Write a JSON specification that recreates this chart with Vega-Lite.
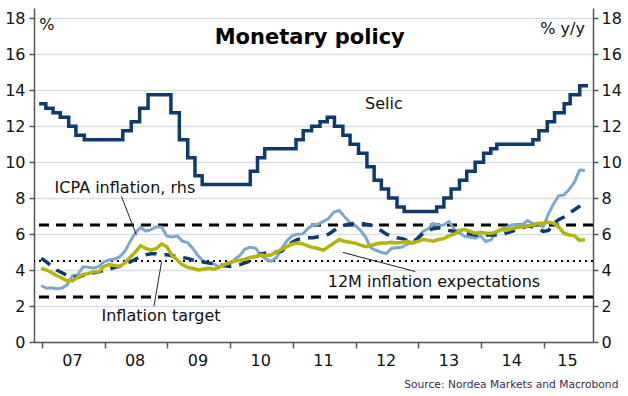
{
  "$schema": "https://vega.github.io/schema/vega-lite/v6.json",
  "width": 559,
  "height": 334,
  "autosize": "none",
  "padding": {"left": 34, "top": 8, "right": 35, "bottom": 54},
  "background": "white",
  "config": {
    "view": {"stroke": null},
    "axis": {
      "labelFont": "DejaVu Sans",
      "labelFontSize": 16,
      "labelColor": "#111111",
      "domainColor": "#555555",
      "domainWidth": 1.5,
      "tickColor": "#555555",
      "tickWidth": 1.5,
      "gridColor": "#d9dee5",
      "gridWidth": 1.5
    },
    "text": {"font": "DejaVu Sans"}
  },
  "datasets": {
    "selic": [
      {"date": "2006-12-16", "rate": 13.25},
      {"date": "2007-01-24", "rate": 13.0},
      {"date": "2007-03-07", "rate": 12.75},
      {"date": "2007-04-18", "rate": 12.5},
      {"date": "2007-06-06", "rate": 12.0},
      {"date": "2007-07-18", "rate": 11.5},
      {"date": "2007-09-05", "rate": 11.25},
      {"date": "2008-04-16", "rate": 11.75},
      {"date": "2008-06-04", "rate": 12.25},
      {"date": "2008-07-23", "rate": 13.0},
      {"date": "2008-09-10", "rate": 13.75},
      {"date": "2009-01-21", "rate": 12.75},
      {"date": "2009-03-11", "rate": 11.25},
      {"date": "2009-04-29", "rate": 10.25},
      {"date": "2009-06-10", "rate": 9.25},
      {"date": "2009-07-22", "rate": 8.75},
      {"date": "2010-04-28", "rate": 9.5},
      {"date": "2010-06-09", "rate": 10.25},
      {"date": "2010-07-21", "rate": 10.75},
      {"date": "2011-01-19", "rate": 11.25},
      {"date": "2011-03-02", "rate": 11.75},
      {"date": "2011-04-20", "rate": 12.0},
      {"date": "2011-06-08", "rate": 12.25},
      {"date": "2011-07-20", "rate": 12.5},
      {"date": "2011-08-31", "rate": 12.0},
      {"date": "2011-10-19", "rate": 11.5},
      {"date": "2011-11-30", "rate": 11.0},
      {"date": "2012-01-18", "rate": 10.5},
      {"date": "2012-03-07", "rate": 9.75},
      {"date": "2012-04-18", "rate": 9.0},
      {"date": "2012-05-30", "rate": 8.5},
      {"date": "2012-07-11", "rate": 8.0},
      {"date": "2012-08-29", "rate": 7.5},
      {"date": "2012-10-10", "rate": 7.25},
      {"date": "2013-04-17", "rate": 7.5},
      {"date": "2013-05-29", "rate": 8.0},
      {"date": "2013-07-10", "rate": 8.5},
      {"date": "2013-08-28", "rate": 9.0},
      {"date": "2013-10-09", "rate": 9.5},
      {"date": "2013-11-27", "rate": 10.0},
      {"date": "2014-01-15", "rate": 10.5},
      {"date": "2014-02-26", "rate": 10.75},
      {"date": "2014-04-02", "rate": 11.0},
      {"date": "2014-10-29", "rate": 11.25},
      {"date": "2014-12-03", "rate": 11.75},
      {"date": "2015-01-21", "rate": 12.25},
      {"date": "2015-03-04", "rate": 12.75},
      {"date": "2015-04-29", "rate": 13.25},
      {"date": "2015-06-03", "rate": 13.75},
      {"date": "2015-07-29", "rate": 14.25},
      {"date": "2015-09-15", "rate": 14.25}
    ],
    "inflation": [
      {"date": "2006-12-28", "ipca": 3.14, "exp12m": 4.1, "dashed": 4.65},
      {"date": "2007-01-28", "ipca": 2.99, "exp12m": 4.0, "dashed": 4.45},
      {"date": "2007-02-28", "ipca": 3.02, "exp12m": 3.85, "dashed": 4.2},
      {"date": "2007-03-28", "ipca": 2.96, "exp12m": 3.7, "dashed": 4.0},
      {"date": "2007-04-28", "ipca": 3.0, "exp12m": 3.55, "dashed": 3.85},
      {"date": "2007-05-28", "ipca": 3.18, "exp12m": 3.4, "dashed": 3.7},
      {"date": "2007-06-28", "ipca": 3.69, "exp12m": 3.4, "dashed": 3.6},
      {"date": "2007-07-28", "ipca": 3.74, "exp12m": 3.6, "dashed": 3.6},
      {"date": "2007-08-28", "ipca": 4.18, "exp12m": 3.75, "dashed": 3.7},
      {"date": "2007-09-28", "ipca": 4.15, "exp12m": 3.8, "dashed": 3.8},
      {"date": "2007-10-28", "ipca": 4.12, "exp12m": 3.9, "dashed": 3.85},
      {"date": "2007-11-28", "ipca": 4.19, "exp12m": 3.9, "dashed": 3.9},
      {"date": "2007-12-28", "ipca": 4.46, "exp12m": 4.2, "dashed": 4.0},
      {"date": "2008-01-28", "ipca": 4.56, "exp12m": 4.3, "dashed": 4.05},
      {"date": "2008-02-28", "ipca": 4.61, "exp12m": 4.25, "dashed": 4.15},
      {"date": "2008-03-28", "ipca": 4.73, "exp12m": 4.2, "dashed": 4.2},
      {"date": "2008-04-28", "ipca": 5.04, "exp12m": 4.4, "dashed": 4.3},
      {"date": "2008-05-28", "ipca": 5.58, "exp12m": 4.7, "dashed": 4.45},
      {"date": "2008-06-28", "ipca": 6.06, "exp12m": 5.0, "dashed": 4.6},
      {"date": "2008-07-28", "ipca": 6.37, "exp12m": 5.35, "dashed": 4.75},
      {"date": "2008-08-28", "ipca": 6.17, "exp12m": 5.2, "dashed": 4.85},
      {"date": "2008-09-28", "ipca": 6.25, "exp12m": 5.1, "dashed": 4.9},
      {"date": "2008-10-28", "ipca": 6.41, "exp12m": 5.2, "dashed": 4.9},
      {"date": "2008-11-28", "ipca": 6.39, "exp12m": 5.45, "dashed": 4.85},
      {"date": "2008-12-28", "ipca": 5.9, "exp12m": 5.3, "dashed": 4.85},
      {"date": "2009-01-28", "ipca": 5.84, "exp12m": 4.8, "dashed": 4.8},
      {"date": "2009-02-28", "ipca": 5.9, "exp12m": 4.55, "dashed": 4.75},
      {"date": "2009-03-28", "ipca": 5.61, "exp12m": 4.3, "dashed": 4.7},
      {"date": "2009-04-28", "ipca": 5.53, "exp12m": 4.15, "dashed": 4.65},
      {"date": "2009-05-28", "ipca": 5.2, "exp12m": 4.1, "dashed": 4.55},
      {"date": "2009-06-28", "ipca": 4.8, "exp12m": 4.0, "dashed": 4.5},
      {"date": "2009-07-28", "ipca": 4.5, "exp12m": 4.05, "dashed": 4.45},
      {"date": "2009-08-28", "ipca": 4.36, "exp12m": 4.1, "dashed": 4.4},
      {"date": "2009-09-28", "ipca": 4.34, "exp12m": 4.05, "dashed": 4.35},
      {"date": "2009-10-28", "ipca": 4.17, "exp12m": 4.15, "dashed": 4.3},
      {"date": "2009-11-28", "ipca": 4.22, "exp12m": 4.3, "dashed": 4.25},
      {"date": "2009-12-28", "ipca": 4.31, "exp12m": 4.4, "dashed": 4.2},
      {"date": "2010-01-28", "ipca": 4.59, "exp12m": 4.5, "dashed": 4.25},
      {"date": "2010-02-28", "ipca": 4.83, "exp12m": 4.55, "dashed": 4.3},
      {"date": "2010-03-28", "ipca": 5.17, "exp12m": 4.6, "dashed": 4.4},
      {"date": "2010-04-28", "ipca": 5.26, "exp12m": 4.7, "dashed": 4.5},
      {"date": "2010-05-28", "ipca": 5.22, "exp12m": 4.75, "dashed": 4.7},
      {"date": "2010-06-28", "ipca": 4.84, "exp12m": 4.85, "dashed": 4.9},
      {"date": "2010-07-28", "ipca": 4.6, "exp12m": 4.8, "dashed": 4.95},
      {"date": "2010-08-28", "ipca": 4.49, "exp12m": 4.85, "dashed": 4.95},
      {"date": "2010-09-28", "ipca": 4.7, "exp12m": 5.0, "dashed": 5.0},
      {"date": "2010-10-28", "ipca": 5.2, "exp12m": 5.15, "dashed": 5.05},
      {"date": "2010-11-28", "ipca": 5.63, "exp12m": 5.3, "dashed": 5.3},
      {"date": "2010-12-28", "ipca": 5.91, "exp12m": 5.45, "dashed": 5.55},
      {"date": "2011-01-28", "ipca": 5.99, "exp12m": 5.5, "dashed": 5.7},
      {"date": "2011-02-28", "ipca": 6.01, "exp12m": 5.45, "dashed": 5.75},
      {"date": "2011-03-28", "ipca": 6.3, "exp12m": 5.35, "dashed": 5.8},
      {"date": "2011-04-28", "ipca": 6.51, "exp12m": 5.25, "dashed": 5.8},
      {"date": "2011-05-28", "ipca": 6.55, "exp12m": 5.2, "dashed": 5.85},
      {"date": "2011-06-28", "ipca": 6.71, "exp12m": 5.1, "dashed": 5.9},
      {"date": "2011-07-28", "ipca": 6.87, "exp12m": 5.3, "dashed": 6.0},
      {"date": "2011-08-28", "ipca": 7.23, "exp12m": 5.5, "dashed": 6.2},
      {"date": "2011-09-28", "ipca": 7.31, "exp12m": 5.7, "dashed": 6.4},
      {"date": "2011-10-28", "ipca": 6.97, "exp12m": 5.6, "dashed": 6.5},
      {"date": "2011-11-28", "ipca": 6.64, "exp12m": 5.55, "dashed": 6.55},
      {"date": "2011-12-28", "ipca": 6.5, "exp12m": 5.5, "dashed": 6.6},
      {"date": "2012-01-28", "ipca": 6.22, "exp12m": 5.4, "dashed": 6.6},
      {"date": "2012-02-28", "ipca": 5.85, "exp12m": 5.3, "dashed": 6.55},
      {"date": "2012-03-28", "ipca": 5.24, "exp12m": 5.35, "dashed": 6.5},
      {"date": "2012-04-28", "ipca": 5.1, "exp12m": 5.45, "dashed": 6.35},
      {"date": "2012-05-28", "ipca": 4.99, "exp12m": 5.5, "dashed": 6.2},
      {"date": "2012-06-28", "ipca": 4.92, "exp12m": 5.5, "dashed": 6.0},
      {"date": "2012-07-28", "ipca": 5.2, "exp12m": 5.55, "dashed": 5.9},
      {"date": "2012-08-28", "ipca": 5.24, "exp12m": 5.5, "dashed": 5.8},
      {"date": "2012-09-28", "ipca": 5.28, "exp12m": 5.55, "dashed": 5.75},
      {"date": "2012-10-28", "ipca": 5.45, "exp12m": 5.6, "dashed": 5.65},
      {"date": "2012-11-28", "ipca": 5.53, "exp12m": 5.5, "dashed": 5.55},
      {"date": "2012-12-28", "ipca": 5.84, "exp12m": 5.6, "dashed": 5.75},
      {"date": "2013-01-28", "ipca": 6.15, "exp12m": 5.7, "dashed": 6.05},
      {"date": "2013-02-28", "ipca": 6.31, "exp12m": 5.65, "dashed": 6.2},
      {"date": "2013-03-28", "ipca": 6.59, "exp12m": 5.6, "dashed": 6.3},
      {"date": "2013-04-28", "ipca": 6.49, "exp12m": 5.7, "dashed": 6.35},
      {"date": "2013-05-28", "ipca": 6.5, "exp12m": 5.75, "dashed": 6.3},
      {"date": "2013-06-28", "ipca": 6.7, "exp12m": 5.9, "dashed": 6.2},
      {"date": "2013-07-28", "ipca": 6.27, "exp12m": 6.0, "dashed": 6.15},
      {"date": "2013-08-28", "ipca": 6.09, "exp12m": 6.2, "dashed": 6.1},
      {"date": "2013-09-28", "ipca": 5.86, "exp12m": 6.25, "dashed": 6.05},
      {"date": "2013-10-28", "ipca": 5.84, "exp12m": 6.15, "dashed": 6.0},
      {"date": "2013-11-28", "ipca": 5.77, "exp12m": 6.05, "dashed": 5.95},
      {"date": "2013-12-28", "ipca": 5.91, "exp12m": 6.1, "dashed": 5.95},
      {"date": "2014-01-28", "ipca": 5.59, "exp12m": 6.05, "dashed": 5.95},
      {"date": "2014-02-28", "ipca": 5.68, "exp12m": 6.05, "dashed": 5.95},
      {"date": "2014-03-28", "ipca": 6.15, "exp12m": 6.1, "dashed": 5.95},
      {"date": "2014-04-28", "ipca": 6.28, "exp12m": 6.25, "dashed": 5.95},
      {"date": "2014-05-28", "ipca": 6.37, "exp12m": 6.2, "dashed": 6.05},
      {"date": "2014-06-28", "ipca": 6.52, "exp12m": 6.3, "dashed": 6.15},
      {"date": "2014-07-28", "ipca": 6.5, "exp12m": 6.35, "dashed": 6.25},
      {"date": "2014-08-28", "ipca": 6.51, "exp12m": 6.4, "dashed": 6.35},
      {"date": "2014-09-28", "ipca": 6.75, "exp12m": 6.45, "dashed": 6.45},
      {"date": "2014-10-28", "ipca": 6.59, "exp12m": 6.5, "dashed": 6.4},
      {"date": "2014-11-28", "ipca": 6.56, "exp12m": 6.6, "dashed": 6.3},
      {"date": "2014-12-28", "ipca": 6.41, "exp12m": 6.6, "dashed": 6.15},
      {"date": "2015-01-28", "ipca": 7.14, "exp12m": 6.65, "dashed": 6.2},
      {"date": "2015-02-28", "ipca": 7.7, "exp12m": 6.6, "dashed": 6.6},
      {"date": "2015-03-28", "ipca": 8.13, "exp12m": 6.4, "dashed": 6.8},
      {"date": "2015-04-28", "ipca": 8.17, "exp12m": 6.05, "dashed": 6.95},
      {"date": "2015-05-28", "ipca": 8.47, "exp12m": 5.95, "dashed": 7.15},
      {"date": "2015-06-28", "ipca": 8.89, "exp12m": 5.9, "dashed": 7.35},
      {"date": "2015-07-28", "ipca": 9.56, "exp12m": 5.65, "dashed": 7.55},
      {"date": "2015-08-28", "ipca": 9.53, "exp12m": 5.7, "dashed": 7.8}
    ],
    "targets": [
      {"level": 6.5, "line": "band"},
      {"level": 2.5, "line": "band"},
      {"level": 4.5, "line": "centre"}
    ],
    "notes": [
      {"date": "2006-12-16", "value": 17.35, "label": "%", "kind": "left"},
      {"date": "2007-03-16", "value": 8.28, "label": "ICPA inflation, rhs", "kind": "left"},
      {"date": "2011-07-23", "value": 3.06, "label": "12M inflation expectations", "kind": "left"},
      {"date": "2007-12-14", "value": 1.14, "label": "Inflation target", "kind": "left"},
      {"date": "2012-06-14", "value": 12.96, "label": "Selic", "kind": "center"},
      {"date": "2015-08-28", "value": 17.15, "label": "% y/y", "kind": "right"},
      {"date": "2011-04-09", "value": 16.55, "label": "Monetary policy", "kind": "title"},
      {"date": "2016-03-10", "value": -2.54, "label": "Source: Nordea Markets and Macrobond", "kind": "source"}
    ],
    "links": [
      {"date": "2008-04-08", "value": 8.09, "date2": "2008-07-04", "value2": 5.96},
      {"date": "2008-10-14", "value": 1.98, "date2": "2008-11-28", "value2": 4.48},
      {"date": "2011-10-19", "value": 4.98, "date2": "2012-12-13", "value2": 3.92}
    ]
  },
  "layer": [
    {
      "data": {"name": "targets"},
      "transform": [{"filter": "datum.line == 'band'"}],
      "mark": {"type": "rule", "color": "#000000", "strokeWidth": 3, "strokeDash": [10, 7]},
      "encoding": {
        "y": {"field": "level", "type": "quantitative", "scale": {"domain": [0, 18.57], "nice": false, "zero": false}, "axis": null}
      }
    },
    {
      "data": {"name": "targets"},
      "transform": [{"filter": "datum.line == 'centre'"}],
      "mark": {"type": "rule", "color": "#000000", "strokeWidth": 2, "strokeDash": [2, 4]},
      "encoding": {
        "y": {"field": "level", "type": "quantitative", "scale": {"domain": [0, 18.57], "nice": false, "zero": false}, "axis": null}
      }
    },
    {
      "data": {"name": "inflation"},
      "mark": {"type": "line", "color": "#7fa6cc", "strokeWidth": 3},
      "encoding": {
        "x": {"field": "date", "type": "temporal", "title": null, "scale": {"type": "utc", "domain": [{"year": 2006, "month": 11, "date": 16, "utc": true}, {"year": 2015, "month": 10, "date": 14, "utc": true}]}},
        "y": {"field": "ipca", "type": "quantitative", "title": null, "scale": {"domain": [0, 18.57], "nice": false, "zero": false},
          "axis": {"orient": "right", "values": [0, 2, 4, 6, 8, 10, 12, 14, 16, 18], "grid": false, "tickSize": 5, "labelPadding": 3, "labelFlush": false}}
      }
    },
    {
      "data": {"name": "inflation"},
      "mark": {"type": "line", "color": "#0e3a6e", "strokeWidth": 3.5, "strokeDash": [11, 8]},
      "encoding": {
        "x": {"field": "date", "type": "temporal", "title": null, "scale": {"type": "utc", "domain": [{"year": 2006, "month": 11, "date": 16, "utc": true}, {"year": 2015, "month": 10, "date": 14, "utc": true}]}},
        "y": {"field": "dashed", "type": "quantitative", "scale": {"domain": [0, 18.57], "nice": false, "zero": false}, "axis": null}
      }
    },
    {
      "data": {"name": "inflation"},
      "mark": {"type": "line", "color": "#b3b50c", "strokeWidth": 3.5},
      "encoding": {
        "x": {"field": "date", "type": "temporal", "title": null, "scale": {"type": "utc", "domain": [{"year": 2006, "month": 11, "date": 16, "utc": true}, {"year": 2015, "month": 10, "date": 14, "utc": true}]}},
        "y": {"field": "exp12m", "type": "quantitative", "scale": {"domain": [0, 18.57], "nice": false, "zero": false}, "axis": null}
      }
    },
    {
      "data": {"name": "selic"},
      "mark": {"type": "line", "color": "#0e3a6e", "strokeWidth": 3.5, "interpolate": "step-after"},
      "encoding": {
        "x": {"field": "date", "type": "temporal", "title": null,
          "scale": {"type": "utc", "domain": [{"year": 2006, "month": 11, "date": 16, "utc": true}, {"year": 2015, "month": 10, "date": 14, "utc": true}]},
          "axis": {
            "values": [
              {"year": 2007, "month": 1, "date": 1, "utc": true},
              {"year": 2008, "month": 1, "date": 1, "utc": true},
              {"year": 2009, "month": 1, "date": 1, "utc": true},
              {"year": 2010, "month": 1, "date": 1, "utc": true},
              {"year": 2011, "month": 1, "date": 1, "utc": true},
              {"year": 2012, "month": 1, "date": 1, "utc": true},
              {"year": 2013, "month": 1, "date": 1, "utc": true},
              {"year": 2014, "month": 1, "date": 1, "utc": true},
              {"year": 2015, "month": 1, "date": 1, "utc": true}
            ],
            "format": "%y",
            "labelAlign": "center",
            "labelOffset": {"condition": {"test": "datum.value >= utc(2015,0,1)", "value": 23}, "value": 30},
            "tickSize": 6,
            "labelPadding": 4,
            "grid": false,
            "labelFlush": false,
            "labelBound": false,
            "labelOverlap": false
          }
        },
        "y": {"field": "rate", "type": "quantitative", "title": null, "scale": {"domain": [0, 18.57], "nice": false, "zero": false},
          "axis": {"orient": "left", "values": [0, 2, 4, 6, 8, 10, 12, 14, 16, 18], "grid": true, "tickSize": 5, "labelPadding": 4, "labelFlush": false}}
      }
    },
    {
      "data": {"name": "links"},
      "mark": {"type": "rule", "color": "#222222", "strokeWidth": 1},
      "encoding": {
        "x": {"field": "date", "type": "temporal", "title": null, "scale": {"type": "utc", "domain": [{"year": 2006, "month": 11, "date": 16, "utc": true}, {"year": 2015, "month": 10, "date": 14, "utc": true}]}},
        "x2": {"field": "date2"},
        "y": {"field": "value", "type": "quantitative", "scale": {"domain": [0, 18.57], "nice": false, "zero": false}, "axis": null},
        "y2": {"field": "value2"}
      }
    },
    {
      "data": {"name": "notes"},
      "transform": [{"filter": "datum.kind == 'left'"}],
      "mark": {"type": "text", "align": "left", "baseline": "alphabetic", "fontSize": 16, "color": "#111111"},
      "encoding": {
        "x": {"field": "date", "type": "temporal", "title": null, "scale": {"type": "utc", "domain": [{"year": 2006, "month": 11, "date": 16, "utc": true}, {"year": 2015, "month": 10, "date": 14, "utc": true}]}},
        "y": {"field": "value", "type": "quantitative", "scale": {"domain": [0, 18.57], "nice": false, "zero": false}, "axis": null},
        "text": {"field": "label"}
      }
    },
    {
      "data": {"name": "notes"},
      "transform": [{"filter": "datum.kind == 'center'"}],
      "mark": {"type": "text", "align": "center", "baseline": "alphabetic", "fontSize": 16, "color": "#111111"},
      "encoding": {
        "x": {"field": "date", "type": "temporal", "title": null, "scale": {"type": "utc", "domain": [{"year": 2006, "month": 11, "date": 16, "utc": true}, {"year": 2015, "month": 10, "date": 14, "utc": true}]}},
        "y": {"field": "value", "type": "quantitative", "scale": {"domain": [0, 18.57], "nice": false, "zero": false}, "axis": null},
        "text": {"field": "label"}
      }
    },
    {
      "data": {"name": "notes"},
      "transform": [{"filter": "datum.kind == 'right'"}],
      "mark": {"type": "text", "align": "right", "baseline": "alphabetic", "fontSize": 16, "color": "#111111"},
      "encoding": {
        "x": {"field": "date", "type": "temporal", "title": null, "scale": {"type": "utc", "domain": [{"year": 2006, "month": 11, "date": 16, "utc": true}, {"year": 2015, "month": 10, "date": 14, "utc": true}]}},
        "y": {"field": "value", "type": "quantitative", "scale": {"domain": [0, 18.57], "nice": false, "zero": false}, "axis": null},
        "text": {"field": "label"}
      }
    },
    {
      "data": {"name": "notes"},
      "transform": [{"filter": "datum.kind == 'title'"}],
      "mark": {"type": "text", "align": "center", "baseline": "alphabetic", "fontSize": 21, "fontWeight": "bold", "color": "#000000"},
      "encoding": {
        "x": {"field": "date", "type": "temporal", "title": null, "scale": {"type": "utc", "domain": [{"year": 2006, "month": 11, "date": 16, "utc": true}, {"year": 2015, "month": 10, "date": 14, "utc": true}]}},
        "y": {"field": "value", "type": "quantitative", "scale": {"domain": [0, 18.57], "nice": false, "zero": false}, "axis": null},
        "text": {"field": "label"}
      }
    },
    {
      "data": {"name": "notes"},
      "transform": [{"filter": "datum.kind == 'source'"}],
      "mark": {"type": "text", "align": "right", "baseline": "alphabetic", "fontSize": 10.7, "color": "#3a2a55"},
      "encoding": {
        "x": {"field": "date", "type": "temporal", "title": null, "scale": {"type": "utc", "domain": [{"year": 2006, "month": 11, "date": 16, "utc": true}, {"year": 2015, "month": 10, "date": 14, "utc": true}]}},
        "y": {"field": "value", "type": "quantitative", "scale": {"domain": [0, 18.57], "nice": false, "zero": false}, "axis": null},
        "text": {"field": "label"}
      }
    }
  ],
  "resolve": {"scale": {"y": "independent"}}
}
